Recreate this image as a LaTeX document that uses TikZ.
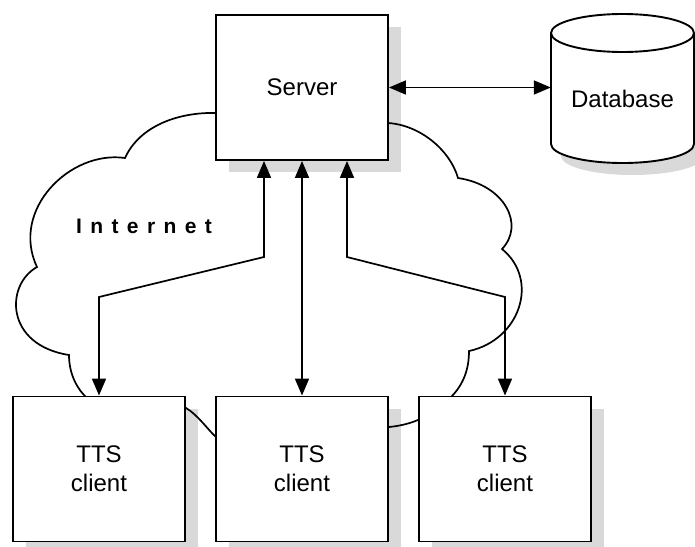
\documentclass[tikz,border=0pt]{standalone}
\usepackage{fontspec}
\setmainfont{Liberation Sans}
\usetikzlibrary{arrows.meta}
\begin{document}
\begin{tikzpicture}[x=1pt,y=-1pt,
  box/.style={draw=black, line width=1.9pt, fill=white, minimum width=172pt, minimum height=145pt, inner sep=0pt, align=center, font=\fontsize{24}{29}\selectfont},
  shade/.style={fill=black!15, draw=none},
  bi/.style={line width=1.7pt, {Triangle[length=17pt,width=14pt]}-{Triangle[length=17pt,width=14pt]}},
  cloudline/.style={line width=1.7pt}]
\useasboundingbox (0,0) rectangle (695,546);
% shadows
\fill[shade] (229,27) rectangle (401,172);
\fill[shade] (26,409) rectangle (198,554);
\fill[shade] (229,409) rectangle (401,554);
\fill[shade] (432,409) rectangle (604,554);
\fill[shade] (561,45) -- (561,156) arc[start angle=180,end angle=360,x radius=71.5pt,y radius=19pt] -- (704,45) arc[start angle=0,end angle=180,x radius=71.5pt,y radius=19pt] -- cycle;
% cloud
\draw[cloudline] (216,113) .. controls (180,112) and (140,125) .. (125,158)
  .. controls (70,150) and (10,210) .. (37,267)
  .. controls (5,285) and (5,345) .. (69,355)
  .. controls (69,375) and (78,390) .. (87,398)
  .. controls (110,420) and (150,395) .. (186,408)
  .. controls (198,415) and (208,430) .. (216,437)
  .. controls (260,470) and (350,450) .. (389,427)
  .. controls (400,426) and (412,423) .. (420,419)
  .. controls (435,412) and (445,405) .. (451,397)
  .. controls (463,385) and (469,370) .. (469,351)
  .. controls (520,340) and (540,280) .. (502,249)
  .. controls (525,225) and (505,185) .. (458,178)
  .. controls (450,150) and (420,125) .. (388,123);
% database cylinder
\draw[line width=1.9pt, fill=white] (551,33) -- (551,144) arc[start angle=180,end angle=360,x radius=71.5pt,y radius=19pt] -- (694,33) arc[start angle=0,end angle=180,x radius=71.5pt,y radius=19pt] -- cycle;
\draw[line width=1.9pt] (551,33) arc[start angle=180,end angle=360,x radius=71.5pt,y radius=19pt];
\node[minimum width=143pt, minimum height=130pt, inner sep=0pt, font=\fontsize{24}{29}\selectfont] (db) at (622.5,99) {Database};
% boxes
\node[box] (server) at (302,87.5) {Server};
\node[box] (c1) at (99,469) {TTS\\client};
\node[box] (c2) at (302,469) {TTS\\client};
\node[box] (c3) at (505,469) {TTS\\client};
\node[font=\fontsize{21}{25}\selectfont\bfseries\addfontfeature{LetterSpace=40}] (inet) at (144,226) {Internet};
% connectors
\coordinate (k1) at (264,257);
\coordinate (m1) at (99,297);
\coordinate (k3) at (347,257);
\coordinate (m3) at (505,297);
\draw[bi] (server.east) -- (server.east -| db.west);
\draw[bi] (server.south -| k1) -- (k1) -- (m1) -- (c1.north);
\draw[bi] (server.south -| c2.north) -- (c2.north);
\draw[bi] (server.south -| k3) -- (k3) -- (m3) -- (c3.north);
\end{tikzpicture}
\end{document}
